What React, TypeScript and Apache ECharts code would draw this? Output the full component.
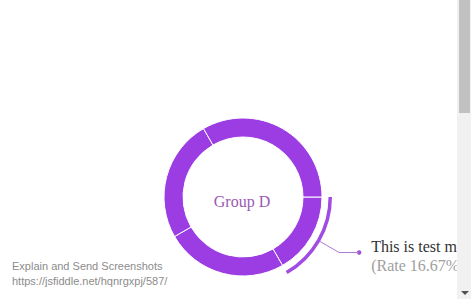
import React, { useEffect, useRef } from "react";
import * as echarts from "echarts";

const categories = ["This is test message", "Group B", "Group C", "Group D"];
const values = [2, 3, 3, 4];
const labelLine1 = "This is test message";
const labelLine2 = "(Rate 16.67%)";
const centerText = "Group D";
const footerLines = ["Explain and Send Screenshots", "https://jsfiddle.net/hqnrgxpj/587/"];

const PURPLE = "#9b3de3";
const CX = 243;
const CY = 197;
const ARC_R = 89;
const LEN1 = 22;
const LEN2 = 20;

export default function App() {
  const ref = useRef<HTMLDivElement>(null);
  useEffect(() => {
    if (!ref.current) return;
    const chart = echarts.init(ref.current, null, { renderer: "svg" });
    const total = values.reduce((a, b) => a + b, 0);
    const mid = (values[0] / total) * Math.PI; // half of first slice angle, clockwise from east
    const p1x = CX + (ARC_R + LEN1) * Math.cos(mid);
    const p1y = CY + (ARC_R + LEN1) * Math.sin(mid);
    const dotX = p1x + LEN2;
    const dotY = p1y;
    chart.setOption({
      animation: false,
      series: [
        {
          type: "pie",
          center: [CX, CY],
          radius: [60, 79],
          startAngle: 0,
          clockwise: true,
          silent: true,
          label: { show: false },
          labelLine: { show: false },
          itemStyle: { color: PURPLE, borderColor: "#ffffff", borderWidth: 1 },
          data: categories.map((c, i) => ({ name: c, value: values[i] })),
        },
        {
          type: "pie",
          center: [CX, CY],
          radius: [85.5, ARC_R],
          startAngle: 0,
          clockwise: true,
          silent: true,
          avoidLabelOverlap: false,
          data: categories.map((c, i) => ({
            name: c,
            value: values[i],
            itemStyle: { color: i === 0 ? "#a24be2" : "transparent" },
            label: i === 0
              ? {
                  show: true,
                  position: "outside",
                  distanceToLabelLine: 12,
                  padding: [6, 0, 0, 0],
                  formatter: "{a|" + labelLine1 + "}\n{b|" + labelLine2 + "}",
                  rich: {
                    a: { fontFamily: "Liberation Serif", fontSize: 16, color: "#333333", lineHeight: 19 },
                    b: { fontFamily: "Liberation Serif", fontSize: 16, color: "#a0a0a0", lineHeight: 19 },
                  },
                }
              : { show: false },
            labelLine: i === 0
              ? { show: true, length: LEN1, length2: LEN2, lineStyle: { color: "#b07ad8", width: 1 } }
              : { show: false },
          })),
        },
      ],
      graphic: [
        {
          type: "circle",
          shape: { cx: dotX, cy: dotY, r: 2.2 },
          style: { fill: "#9b4fd6" },
          silent: true,
        },
        {
          type: "text",
          x: 242,
          y: 201,
          style: {
            text: centerText,
            fontFamily: "Liberation Serif",
            fontSize: 16,
            fill: "#9b59b6",
            align: "center",
            verticalAlign: "middle",
          },
        },
        {
          type: "text",
          x: 12,
          y: 266,
          style: {
            text: footerLines[0],
            fontFamily: "Liberation Sans",
            fontSize: 11,
            fill: "#8c8c8c",
            verticalAlign: "middle",
          },
        },
        {
          type: "text",
          x: 12,
          y: 281,
          style: {
            text: footerLines[1],
            fontFamily: "Liberation Sans",
            fontSize: 11,
            fill: "#8c8c8c",
            verticalAlign: "middle",
          },
        },
      ],
    });
    return () => chart.dispose();
  }, []);
  return (
    <div style={{ position: "absolute", left: 0, top: 0, width: 471, height: 299, background: "#ffffff" }}>
      <div ref={ref} style={{ position: "absolute", left: 0, top: 0, width: 457, height: 299 }} />
      <div style={{ position: "absolute", left: 457, top: 0, width: 14, height: 299, background: "#f1f1f1" }} />
      <div style={{ position: "absolute", left: 459, top: 0, width: 11, height: 113, background: "#c1c1c1" }} />
      <div
        style={{
          position: "absolute",
          left: 461,
          top: 291,
          width: 0,
          height: 0,
          borderLeft: "4px solid transparent",
          borderRight: "4px solid transparent",
          borderTop: "4px solid #505050",
        }}
      />
    </div>
  );
}
